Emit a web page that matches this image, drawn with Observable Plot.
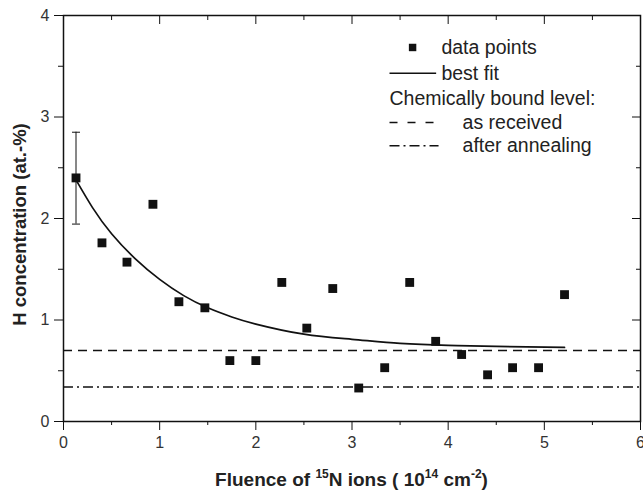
<!DOCTYPE html>
<html><head><meta charset="utf-8">
<script src="https://cdn.jsdelivr.net/npm/d3@7"></script>
<script src="https://cdn.jsdelivr.net/npm/@observablehq/plot@0.6"></script>
<style>
body{margin:0;background:#fff;}
#chart svg{font-family:"Liberation Sans", Arial, Helvetica, sans-serif;}
</style></head><body><div id="chart"></div>
<script>
// data points
const fluence = [0.13,0.40,0.66,0.93,1.20,1.47,1.73,2.00,2.27,2.53,2.80,3.07,3.34,3.60,3.87,4.14,4.41,4.67,4.94,5.21];
const hConc   = [2.40,1.76,1.57,2.14,1.18,1.12,0.60,0.60,1.37,0.92,1.31,0.33,0.53,1.37,0.79,0.66,0.46,0.53,0.53,1.25];
// error bar on first point
const errX = [0.13];
const errLow = [1.945];
const errHigh = [2.85];
// best fit curve
const fitX = [0.13,0.30,0.50,0.75,1.00,1.25,1.50,1.75,2.00,2.50,3.00,3.50,4.00,4.50,5.21];
const fitY = [2.38,2.11,1.85,1.60,1.40,1.24,1.12,1.03,0.96,0.86,0.81,0.77,0.75,0.74,0.73];
// chemically bound levels
const levelAsReceived = [0.70];
const levelAfterAnnealing = [0.34];
// ticks
const xMajor = [0,1,2,3,4,5,6];
const xMinor = [0.5,1.5,2.5,3.5,4.5,5.5];
const yMajor = [0,1,2,3,4];
const yMinor = [0.5,1.5,2.5,3.5];
// legend
const legendLabels = ["data points","best fit","Chemically bound level:","as received","after annealing"];
const legendTextX = [3.93,3.93,3.39,4.15,4.15];
const legendRowY = [3.685,3.43,3.176,2.946,2.716];
const legendSymX = [3.63];
const legendLineX1 = 3.39, legendLineX2 = [3.875,3.9,3.9];

const points = fluence.map((x,i)=>({x, y:hConc[i]}));
const fit = fitX.map((x,i)=>({x, y:fitY[i]}));
const err = errX.map((x,i)=>({x, lo:errLow[i], hi:errHigh[i]}));
const legendText = legendLabels.map((t,i)=>({t, x:legendTextX[i], y:legendRowY[i]}));
const legSolid = [{x1:legendLineX1, x2:legendLineX2[0], y:legendRowY[1]}];
const legDash = [{x1:legendLineX1, x2:legendLineX2[1], y:legendRowY[3]}];
const legDashDot = [{x1:legendLineX1, x2:legendLineX2[2], y:legendRowY[4]}];
const capSymbol = {draw(ctx){ ctx.moveTo(-4,0); ctx.lineTo(4,0); }};
const ink = "#111";
const fmt = d => String(d);

const W = 643, H = 492, ML = 63, MR = 3, MT = 15, MB = 71;
const plot = Plot.plot({
  width: W, height: H,
  marginLeft: ML, marginRight: MR, marginTop: MT, marginBottom: MB,
  style: {fontFamily: '"Liberation Sans", Arial, sans-serif', fontSize: "16px", color: "#222", background: "#fff"},
  x: {domain: [0, 6]},
  y: {domain: [0, 4]},
  marks: [
    Plot.ruleY(levelAsReceived, {stroke: ink, strokeWidth: 1.4, strokeDasharray: "9,6"}),
    Plot.ruleY(levelAfterAnnealing, {stroke: ink, strokeWidth: 1.4, strokeDasharray: "10,4,2,4"}),
    Plot.line(fit, {x: "x", y: "y", stroke: ink, strokeWidth: 1.7, curve: "natural"}),
    Plot.ruleX(err, {x: "x", y1: "lo", y2: "hi", stroke: ink, strokeWidth: 1}),
    Plot.dot(err, {x: "x", y: "lo", symbol: capSymbol, stroke: ink, strokeWidth: 1, fill: "none"}),
    Plot.dot(err, {x: "x", y: "hi", symbol: capSymbol, stroke: ink, strokeWidth: 1, fill: "none"}),
    Plot.dot(points, {x: "x", y: "y", symbol: "square", r: 5, fill: ink, stroke: "none"}),
    // legend
    Plot.dot(legendSymX, {x: d=>d, y: legendRowY[0], symbol: "square", r: 4.2, fill: ink, stroke: "none"}),
    Plot.link(legSolid, {x1: "x1", x2: "x2", y1: "y", y2: "y", stroke: ink, strokeWidth: 1.5}),
    Plot.link(legDash, {x1: "x1", x2: "x2", y1: "y", y2: "y", stroke: ink, strokeWidth: 1.5, strokeDasharray: "8,10"}),
    Plot.link(legDashDot, {x1: "x1", x2: "x2", y1: "y", y2: "y", stroke: ink, strokeWidth: 1.5, strokeDasharray: "10,4,2,4"}),
    Plot.text(legendText, {x: "x", y: "y", text: "t", textAnchor: "start", fontSize: 19.5, fill: "#222"}),
    // axes
    Plot.axisX(xMajor, {anchor: "bottom", tickSize: 9, tickPadding: 6, fontSize: 16, tickFormat: fmt, label: null, stroke: ink, fill: "#333"}),
    Plot.axisX(xMinor, {anchor: "bottom", tickSize: 4, text: null, label: null, stroke: ink}),
    Plot.axisX(xMajor, {anchor: "top", tickSize: -8, text: null, label: null, stroke: ink}),
    Plot.axisX(xMinor, {anchor: "top", tickSize: -4, text: null, label: null, stroke: ink}),
    Plot.axisY(yMajor, {anchor: "left", tickSize: 9, tickPadding: 5, fontSize: 16, tickFormat: fmt, label: null, stroke: ink, fill: "#333"}),
    Plot.axisY(yMinor, {anchor: "left", tickSize: 5, text: null, label: null, stroke: ink}),
    Plot.axisY(yMajor, {anchor: "right", tickSize: -9, text: null, label: null, stroke: ink}),
    Plot.axisY(yMinor, {anchor: "right", tickSize: -5, text: null, label: null, stroke: ink}),
    Plot.frame({stroke: ink, strokeWidth: 1.5}),
    Plot.text(["H concentration (at.-%)"], {text: d=>d, frameAnchor: "left", dx: -43, dy: 6, rotate: -90, textAnchor: "middle", lineAnchor: "middle", fontWeight: "bold", fontSize: 18.5, fill: "#222"})
  ]
});
document.getElementById("chart").appendChild(plot);

// x-axis title with superscripts
const svg = d3.select(plot);
const t = svg.append("text")
  .attr("x", (ML + W - MR) / 2)
  .attr("y", 486)
  .attr("text-anchor", "middle")
  .attr("font-weight", "bold")
  .attr("font-size", 19)
  .attr("fill", "#222");
const parts = [
  ["Fluence of ", false], ["15", true], ["N ions ( 10", false], ["14", true], [" cm", false], ["-2", true], [")", false]
];
parts.forEach(([s, sup], i) => {
  const ts = t.append("tspan").text(s);
  if (sup) ts.attr("font-size", 12).attr("dy", -8);
  else if (i > 0 && parts[i-1][1]) ts.attr("dy", 8);
});
</script></body></html>
